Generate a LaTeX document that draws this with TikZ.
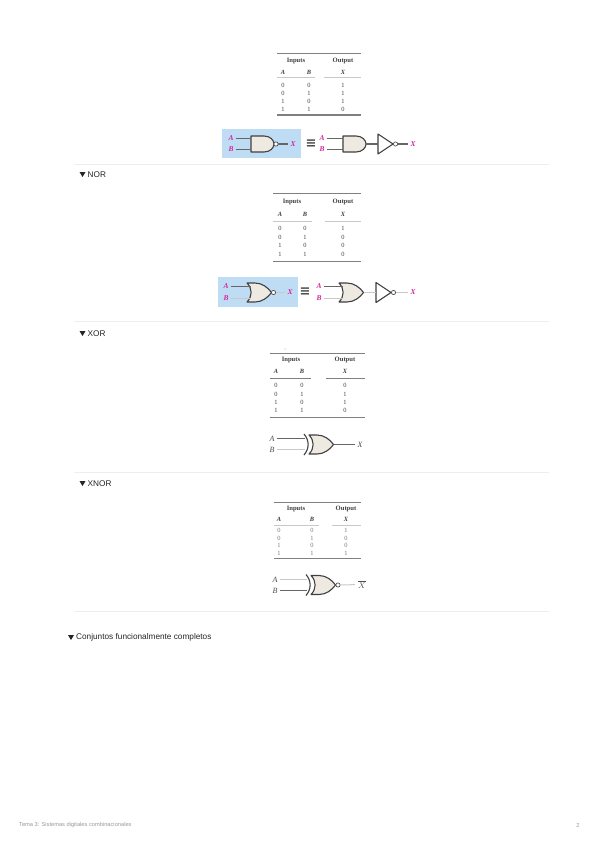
\documentclass[tikz,border=0pt]{standalone}
\usepackage{fontspec}
\setmainfont{Liberation Serif}
\newfontfamily\uisans{Liberation Sans}
\newfontfamily\symfont{DejaVu Sans}
\definecolor{sep}{HTML}{EEEEEE}
\definecolor{rulec}{HTML}{808080}
\definecolor{cellc}{HTML}{404040}
\definecolor{mag}{HTML}{D5269B}
\definecolor{boxblue}{HTML}{BFDCF5}
\definecolor{bodyc}{HTML}{EFEAE1}
\definecolor{wirec}{HTML}{666666}
\definecolor{faint}{HTML}{C8C8C8}
\definecolor{foot}{HTML}{9A9A9A}
\tikzset{
  cell/.style={inner sep=0pt,text=cellc,font=\fontsize{6.4}{7}\selectfont},
  hdr/.style={cell,font=\fontsize{6.6}{7}\selectfont\bfseries},
  var/.style={cell,font=\fontsize{6.4}{7}\selectfont\itshape\bfseries},
  trule/.style={draw=rulec,line width=.9pt},
  tthick/.style={draw=rulec,line width=1.4pt},
  hrule/.style={draw=faint,line width=1pt},
  seprule/.style={draw=sep,line width=.8pt},
  heading/.style={inner sep=0pt,anchor=west,text=black!85,font=\uisans\fontsize{8.25}{10}\selectfont},
  footer/.style={inner sep=0pt,text=foot,font=\uisans\fontsize{5.7}{7}\selectfont},
  maglab/.style={inner sep=2pt,text=mag,font=\fontsize{7.4}{8}\selectfont\itshape\bfseries},
  blklab/.style={inner sep=2pt,text=black!70,font=\fontsize{8}{9}\selectfont\itshape},
  wire/.style={draw=wirec,line width=1.1pt},
  lightwire/.style={draw=faint,line width=1pt},
  gatebody/.style={draw=black!75,fill=bodyc,line width=1.1pt,line join=round},
  bubble/.style={circle,draw=black!70,fill=white,line width=.7pt,inner sep=0pt,minimum size=4.2pt},
  equiv/.style={inner sep=0pt,text=black!70,font=\symfont\bfseries\fontsize{13}{13}\selectfont},
}
\newcommand\andshape[3]{%
  \draw[gatebody] (#1,#2-8) -- (#1+13,#2-8) .. controls (#1+19,#2-8) and (#1+23,#2-4) .. (#1+23,#2)
    .. controls (#1+23,#2+4) and (#1+19,#2+8) .. (#1+13,#2+8) -- (#1,#2+8) -- cycle;
  \coordinate (#3in1) at (#1,#2-5.5);
  \coordinate (#3in2) at (#1,#2+5.5);
  \coordinate (#3out) at (#1+23,#2);}
\newcommand\orshape[3]{%
  \draw[gatebody] (#1-1,#2-9.5) -- (#1+7,#2-9.5) .. controls (#1+14,#2-9.5) and (#1+20,#2-5) .. (#1+23.5,#2)
    .. controls (#1+20,#2+5) and (#1+14,#2+9.5) .. (#1+7,#2+9.5) -- (#1-1,#2+9.5)
    .. controls (#1+4.5,#2+4) and (#1+4.5,#2-4) .. cycle;
  \coordinate (#3in1) at (#1+2.5,#2-6);
  \coordinate (#3in2) at (#1+2.5,#2+6);
  \coordinate (#3out) at (#1+23.5,#2);}
\newcommand\xarc[2]{%
  \draw[draw=black!75,line width=1.1pt] (#1-4,#2-10.5) .. controls (#1+1.5,#2-4) and (#1+1.5,#2+4) .. (#1-4,#2+10.5);}
\newcommand\invshape[3]{%
  \draw[gatebody,fill=white] (#1,#2-10) -- (#1+15,#2) -- (#1,#2+10) -- cycle;
  \coordinate (#3in) at (#1,#2);
  \coordinate (#3out) at (#1+15,#2);}
\begin{document}
\begin{tikzpicture}[x=1pt,y=-1pt]
\useasboundingbox (0,0) rectangle (600,848);
\fill[white] (0,0) rectangle (600,848);

% ---- table 1
\draw[trule] (277,53) -- (361,53);
\node[hdr] (ta) at (296,61) {Inputs};
\node[hdr] (tb) at (343,61) {Output};
\node[var] (tc) at (283,72) {A};
\node[var] (td) at (309,72) {B};
\node[var] (te) at (343,72) {X};
\draw[hrule] (277,78) -- (315,78);
\draw[hrule] (324,78) -- (361,78);
\foreach \y/\a/\b/\c in {85/0/0/1,93/0/1/1,101/1/0/1,109/1/1/0}{
  \node[cell] (ta\y) at (283,\y) {\a};
  \node[cell] (tb\y) at (309,\y) {\b};
  \node[cell] (tc\y) at (343,\y) {\c};}
\draw[tthick] (277,115) -- (361,115);

% ---- NAND figure
\fill[boxblue] (222,129) rectangle (301,158);
\andshape{251}{144}{na}
\node[maglab] (naA) at (231,138.5) {A};
\node[maglab] (naB) at (231,149.5) {B};
\draw[wire] (naA.east) -- (nain1);
\draw[wire] (naB.east) -- (nain2);
\node[bubble] (nab) at (276,144) {};
\node[maglab] (naX) at (293,144) {X};
\draw[wire] (nab) -- (naX);
\node[equiv] (naeq) at (311,144) {≡};
\andshape{343}{144}{nc}
\node[maglab] (ncA) at (322,138.5) {A};
\node[maglab] (ncB) at (322,149.5) {B};
\draw[wire] (ncA.east) -- (ncin1);
\draw[wire] (ncB.east) -- (ncin2);
\invshape{378}{144}{ni}
\draw[wire] (ncout) -- (niin);
\node[bubble] (nib) at (395.5,144) {};
\node[maglab] (niX) at (413,144) {X};
\draw[wire] (nib) -- (niX);
\draw[seprule] (74,164) -- (549,164);

% ---- NOR heading
\fill[black!85] (79.5,172) -- (85.5,172) -- (82.5,177) -- cycle;
\node[heading] (h1) at (87.5,174.5) {NOR};

% ---- table 2
\draw[trule] (273,193) -- (361,193);
\node[hdr] (ua) at (292,202) {Inputs};
\node[hdr] (ub) at (343,202) {Output};
\node[var] (uc) at (280,214) {A};
\node[var] (ud) at (305,214) {B};
\node[var] (ue) at (343,214) {X};
\draw[hrule] (273,221) -- (312,221);
\draw[hrule] (325,221) -- (361,221);
\foreach \y/\a/\b/\c in {228/0/0/1,237/0/1/0,245/1/0/0,254/1/1/0}{
  \node[cell] (ua\y) at (280,\y) {\a};
  \node[cell] (ub\y) at (305,\y) {\b};
  \node[cell] (uc\y) at (343,\y) {\c};}
\draw[trule] (273,261) -- (361,261);

% ---- NOR figure
\fill[boxblue] (218,277) rectangle (298,307);
\orshape{248}{292.5}{oa}
\node[maglab] (oaA) at (226,286.5) {A};
\node[maglab] (oaB) at (226,298.5) {B};
\draw[wire] (oaA.east) -- (oain1);
\draw[lightwire] (oaB.east) -- (oain2);
\node[bubble] (oab) at (273.5,292.5) {};
\node[maglab] (oaX) at (290,292.5) {X};
\draw[lightwire] (oab) -- (oaX);
\node[equiv] (oaeq) at (305,292) {≡};
\orshape{340}{292.5}{oc}
\node[maglab] (ocA) at (319,286.5) {A};
\node[maglab] (ocB) at (319,298.5) {B};
\draw[wire] (ocA.east) -- (ocin1);
\draw[lightwire] (ocB.east) -- (ocin2);
\invshape{376}{292.5}{oi}
\draw[lightwire] (ocout) -- (oiin);
\node[bubble] (oib) at (393.5,292.5) {};
\node[maglab] (oiX) at (413,292.5) {X};
\draw[lightwire] (oib) -- (oiX);
\draw[seprule] (74,321) -- (549,321);

% ---- XOR heading
\fill[black!85] (79.5,331) -- (85.5,331) -- (82.5,336) -- cycle;
\node[heading] (h2) at (87.5,333.5) {XOR};

% ---- table 3
\fill[black!50] (285,349) circle (.5);
\draw[trule] (270,353) -- (365,353);
\node[hdr] (va) at (291,360) {Inputs};
\node[hdr] (vb) at (345,360) {Output};
\node[var] (vc) at (276,371) {A};
\node[var] (vd) at (302,371) {B};
\node[var] (ve) at (345,371) {X};
\draw[trule] (270,378) -- (311,378);
\draw[trule] (326,378) -- (365,378);
\foreach \y/\a/\b/\c in {385/0/0/0,394/0/1/1,402/1/0/1,410/1/1/0}{
  \node[cell] (va\y) at (276,\y) {\a};
  \node[cell] (vb\y) at (302,\y) {\b};
  \node[cell] (vc\y) at (345,\y) {\c};}
\draw[trule] (270,417) -- (365,417);

% ---- XOR figure
\xarc{308}{444.5}
\orshape{310}{444.5}{xa}
\node[blklab] (xaA) at (272,438.5) {A};
\node[blklab] (xaB) at (272,449.5) {B};
\coordinate (xw1) at (305,438.5);
\coordinate (xw2) at (305,449.5);
\draw[wire] (xaA.east) -- (xw1);
\draw[lightwire] (xaB.east) -- (xw2);
\node[blklab] (xaX) at (360,444.5) {X};
\draw[wire] (xaout) -- (xaX);
\draw[seprule] (74,472) -- (549,472);

% ---- XNOR heading
\fill[black!85] (79.5,481) -- (85.5,481) -- (82.5,486) -- cycle;
\node[heading] (h3) at (87.5,483.5) {XNOR};

% ---- table 4
\draw[trule] (274,502) -- (361,502);
\node[hdr] (wa) at (296,509) {Inputs};
\node[hdr] (wb) at (346,509) {Output};
\node[var] (wc) at (279,519) {A};
\node[var] (wd) at (312,519) {B};
\node[var] (we) at (346,519) {X};
\draw[hrule] (274,525) -- (319,525);
\draw[hrule] (332,525) -- (361,525);
\foreach \y/\a/\b/\c in {530/0/0/1,538/0/1/0,545/1/0/0,553/1/1/1}{
  \node[cell,text=cellc!70] (wa\y) at (279,\y) {\a};
  \node[cell,text=cellc!70] (wb\y) at (312,\y) {\b};
  \node[cell,text=cellc!70] (wc\y) at (346,\y) {\c};}
\draw[trule] (274,558) -- (361,558);

% ---- XNOR figure
\xarc{310}{585}
\orshape{312}{585}{ya}
\node[blklab] (yaA) at (275,579.5) {A};
\node[blklab] (yaB) at (275,590.5) {B};
\coordinate (yw1) at (307,579.5);
\coordinate (yw2) at (307,590.5);
\draw[lightwire] (yaA.east) -- (yw1);
\draw[wire] (yaB.east) -- (yw2);
\node[bubble] (yab) at (338,585) {};
\node[blklab,inner sep=3pt] (yaX) at (362,584.5) {$\overline{X}$};
\draw[lightwire] (yab) -- (yaX);
\draw[seprule] (74,611) -- (549,611);

% ---- last heading
\fill[black!85] (68,635) -- (74,635) -- (71,640) -- cycle;
\node[heading] (h4) at (76,637.5) {Conjuntos funcionalmente completos};

% ---- footer
\node[footer,anchor=west] (f1) at (19,825) {Tema 3: Sistemas digitales combinacionales};
\node[footer] (f2) at (578,825) {2};
\end{tikzpicture}
\end{document}
